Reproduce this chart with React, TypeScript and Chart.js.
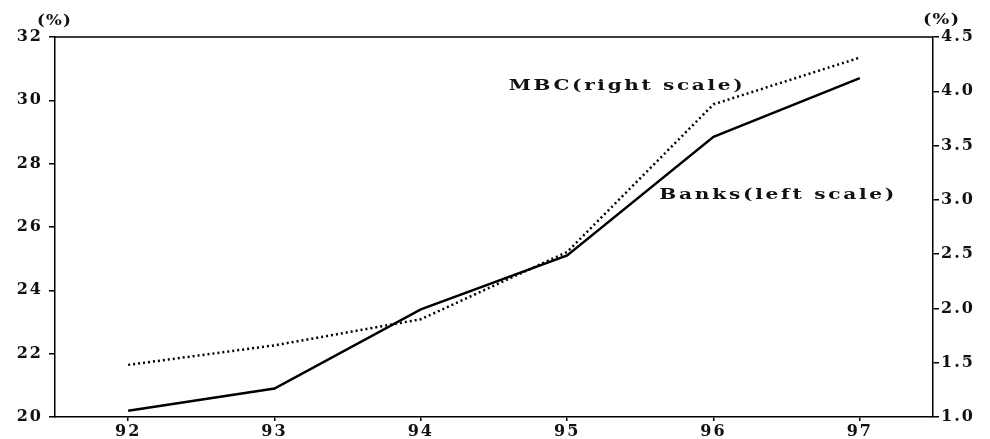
import React, { useEffect, useRef } from "react";
import { Chart, registerables } from "chart.js";

Chart.register(...registerables);

const years = ["92", "93", "94", "95", "96", "97"];
const banksValues = [20.2, 20.9, 23.4, 25.1, 28.85, 30.7];
const mbcValues = [1.48, 1.66, 1.9, 2.52, 3.88, 4.31];
const leftTickValues = [20, 22, 24, 26, 28, 30, 32];
const rightTickValues = [1.0, 1.5, 2.0, 2.5, 3.0, 3.5, 4.0, 4.5];
const mbcLabel = "MBC(right scale)";
const banksLabel = "Banks(left scale)";
const unitLabel = "(%)";

const FONT = "'DejaVu Serif', serif";

function drawFitted(ctx: CanvasRenderingContext2D, text: string, x: number, y: number, width: number, spacing: number) {
  ctx.save();
  (ctx as any).letterSpacing = spacing + "px";
  ctx.textAlign = "left";
  const natural = ctx.measureText(text).width - spacing;
  const sx = width / natural;
  ctx.translate(x, y);
  ctx.scale(sx, 1);
  ctx.fillText(text, 0, 0);
  ctx.restore();
}

const overlayPlugin = {
  id: "overlay",
  beforeDraw(chart: any) {
    (chart.ctx as any).letterSpacing = "2px";
  },
  afterDraw(chart: any) {
    const { ctx, chartArea } = chart;
    ctx.save();
    ctx.strokeStyle = "#000";
    ctx.lineWidth = 1.5;
    ctx.beginPath();
    ctx.moveTo(chartArea.left, chartArea.top);
    ctx.lineTo(chartArea.right, chartArea.top);
    ctx.stroke();

    ctx.fillStyle = "#111";
    ctx.textBaseline = "middle";
    ctx.font = `bold 15px ${FONT}`;
    const xs = chart.scales.x;
    const yl = chart.scales.y;
    const yr = chart.scales.y1;
    drawFitted(ctx, mbcLabel, xs.getPixelForValue(2.6), yr.getPixelForValue(4.05), 234, 2);
    drawFitted(ctx, banksLabel, xs.getPixelForValue(3.63), yl.getPixelForValue(27.0), 235, 2);
    ctx.font = `bold 14px ${FONT}`;
    drawFitted(ctx, unitLabel, chartArea.left - 18, chartArea.top - 16, 34, 1);
    drawFitted(ctx, unitLabel, chartArea.right - 10, chartArea.top - 17, 36, 1);
    ctx.restore();
  },
};

export default function App() {
  const ref = useRef<HTMLCanvasElement | null>(null);
  useEffect(() => {
    if (!ref.current) return;
    const tickFont = { family: FONT, size: 16, weight: "bold" as const };
    const chart = new Chart(ref.current, {
      type: "line",
      data: {
        labels: years,
        datasets: [
          {
            label: "Banks",
            data: banksValues,
            yAxisID: "y",
            borderColor: "#000",
            borderWidth: 2.5,
            pointRadius: 0,
            tension: 0,
            fill: false,
          },
          {
            label: "MBC",
            data: mbcValues,
            yAxisID: "y1",
            borderColor: "#000",
            borderWidth: 2.5,
            borderDash: [2, 3],
            borderCapStyle: "butt",
            pointRadius: 0,
            tension: 0,
            fill: false,
          },
        ],
      },
      options: {
        responsive: false,
        animation: false,
        layout: { padding: { top: 37, left: 0, right: 0, bottom: 0 } },
        plugins: { legend: { display: false }, tooltip: { enabled: false } },
        scales: {
          x: {
            type: "category",
            offset: true,
            grid: { display: true, drawOnChartArea: false, drawTicks: true, tickLength: 4, color: "#000", lineWidth: 1.5 },
            border: { display: true, color: "#000", width: 1.5 },
            ticks: { font: tickFont, color: "#111", padding: 1, maxRotation: 0 },
            afterFit: (s: any) => { s.height = 22; },
          },
          y: {
            position: "left",
            min: 20,
            max: 32,
            afterBuildTicks: (s: any) => { s.ticks = leftTickValues.map((v) => ({ value: v })); },
            grid: { display: true, drawOnChartArea: false, drawTicks: true, tickLength: 6, color: "#000", lineWidth: 1.5 },
            border: { display: true, color: "#000", width: 1.5 },
            ticks: { font: tickFont, color: "#111", padding: 6 },
            afterFit: (s: any) => { s.width = 55; },
          },
          y1: {
            position: "right",
            min: 1,
            max: 4.5,
            afterBuildTicks: (s: any) => { s.ticks = rightTickValues.map((v) => ({ value: v })); },
            grid: { display: true, drawOnChartArea: false, drawTicks: true, tickLength: 6, color: "#000", lineWidth: 1.5 },
            border: { display: true, color: "#000", width: 1.5 },
            ticks: { font: tickFont, color: "#111", padding: 2, callback: (v: any) => Number(v).toFixed(1) },
            afterFit: (s: any) => { s.width = 57; },
          },
        },
      },
      plugins: [overlayPlugin],
    });
    return () => chart.destroy();
  }, []);
  return (
    <div style={{ position: "fixed", left: 0, top: 0, width: 990, height: 439, background: "#fff" }}>
      <canvas ref={ref} width={990} height={439} style={{ width: 990, height: 439, display: "block" }} />
    </div>
  );
}
